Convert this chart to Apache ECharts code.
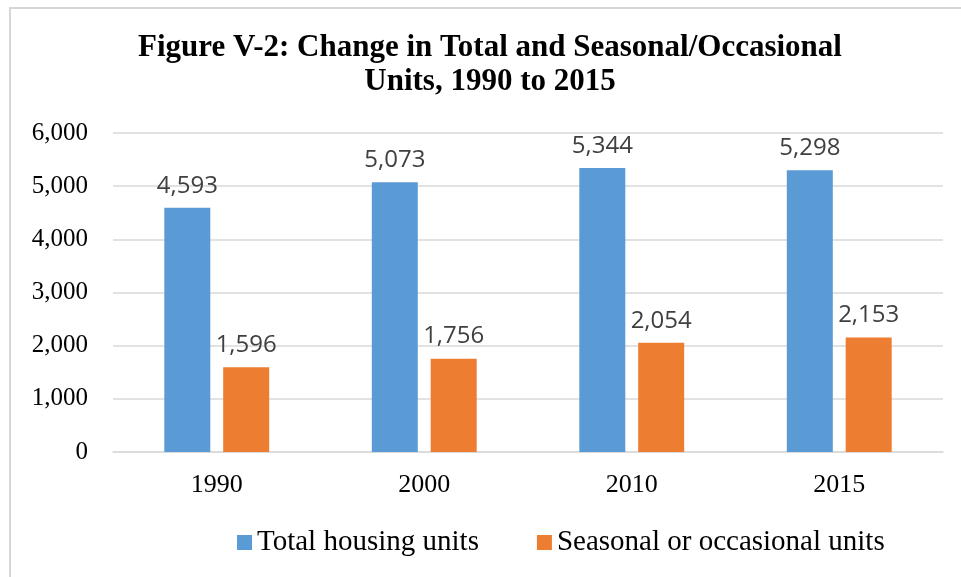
<!DOCTYPE html>
<html style="height: 100%">
<head>
    <meta charset="utf-8">
    <script src="https://cdn.jsdelivr.net/npm/echarts@6/dist/echarts.min.js"></script>
</head>
<body style="height: 100%; margin: 0; background: #fff">
<div id="container" style="width: 961px; height: 577px"></div>
<script type="text/javascript">
var years = ['1990', '2000', '2010', '2015'];
var totalUnits = [4593, 5073, 5344, 5298];
var seasonalUnits = [1596, 1756, 2054, 2153];
var yTicks = [0, 1000, 2000, 3000, 4000, 5000, 6000];

var serif = '"Liberation Serif", "DejaVu Serif", serif';
var sans = '"Open Sans", "Liberation Sans", sans-serif';

function fmt(v) {
    return String(v).replace(/\B(?=(\d{3})+(?!\d))/g, ',');
}

var myChart = echarts.init(document.getElementById('container'));

var barLabel = {
    show: true,
    position: 'top',
    distance: 10,
    fontFamily: sans,
    fontSize: 24,
    color: '#404040',
    formatter: function (p) { return fmt(p.value); }
};

var option = {
    animation: false,
    title: {
        text: 'Figure V-2: Change in Total and Seasonal/Occasional\nUnits, 1990 to 2015',
        left: 490,
        textAlign: 'center',
        top: 31,
        padding: 0,
        textStyle: {
            fontFamily: serif,
            fontWeight: 'bold',
            fontSize: 31,
            lineHeight: 34,
            color: '#000'
        }
    },
    legend: {
        left: 237,
        top: 528,
        padding: 0,
        itemWidth: 15,
        itemHeight: 15,
        itemGap: 58,
        icon: 'rect',
        textStyle: {
            fontFamily: serif,
            fontSize: 29,
            color: '#000'
        }
    },
    grid: {
        left: 113,
        right: 18,
        top: 133,
        bottom: 125
    },
    xAxis: {
        type: 'category',
        data: years,
        axisTick: {show: false},
        axisLine: {lineStyle: {color: '#d9d9d9', width: 1.5}},
        axisLabel: {
            margin: 20,
            fontFamily: serif,
            fontSize: 26,
            color: '#000'
        }
    },
    yAxis: {
        type: 'value',
        min: yTicks[0],
        max: yTicks[yTicks.length - 1],
        interval: 1000,
        axisLine: {show: false},
        axisTick: {show: false},
        splitLine: {lineStyle: {color: '#d9d9d9', width: 1.5}},
        axisLabel: {
            margin: 25,
            fontFamily: serif,
            fontSize: 25,
            color: '#000',
            formatter: function (v) { return fmt(v); }
        }
    },
    series: [
        {
            name: 'Total housing units',
            type: 'bar',
            data: totalUnits,
            barWidth: 46,
            barGap: '28%',
            itemStyle: {color: '#5B9BD5'},
            label: barLabel
        },
        {
            name: 'Seasonal or occasional units',
            type: 'bar',
            data: seasonalUnits,
            barWidth: 46,
            barGap: '28%',
            itemStyle: {color: '#ED7D31'},
            label: barLabel
        }
    ],
    graphic: [{
        type: 'rect',
        silent: true,
        shape: {x: 10, y: 8, width: 1000, height: 1000},
        style: {fill: null, stroke: '#d6d6d6', lineWidth: 2}
    }]
};

myChart.setOption(option);
</script>
</body>
</html>
